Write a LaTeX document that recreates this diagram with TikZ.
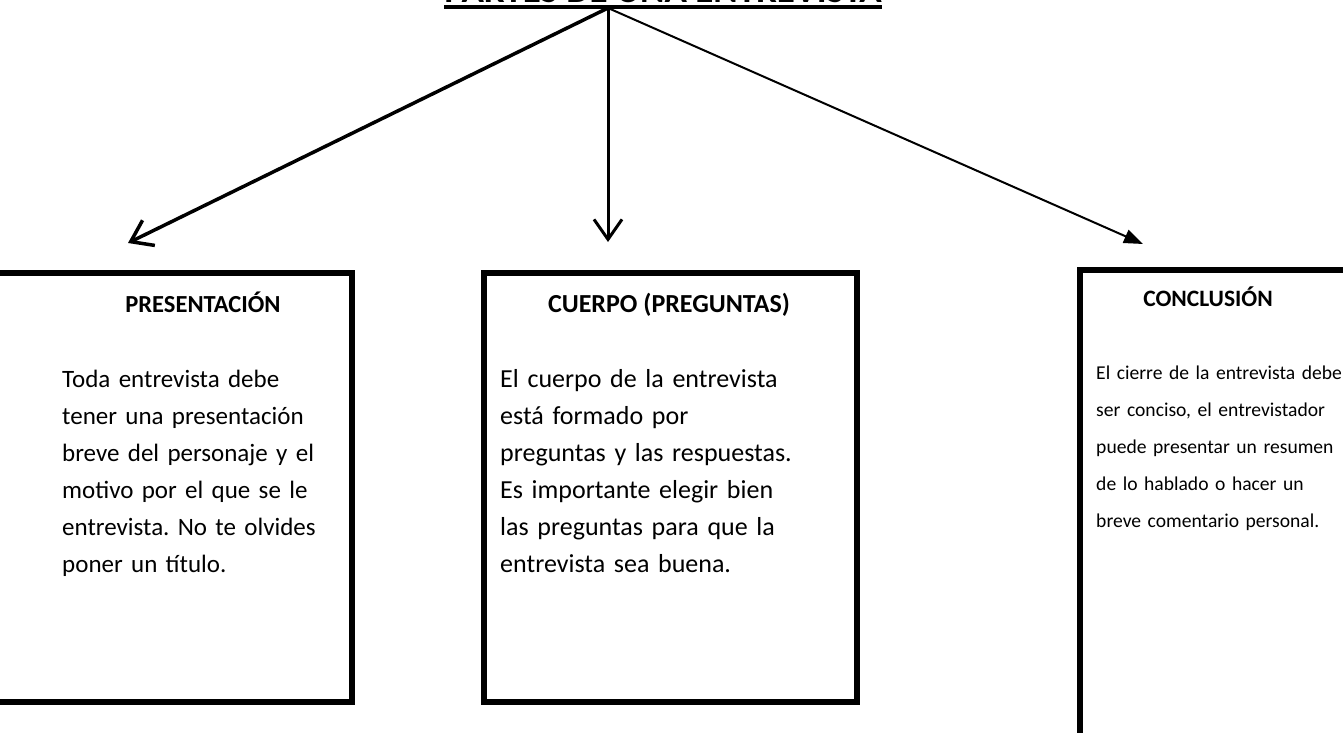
\documentclass[tikz,border=0pt]{standalone}
\usepackage{fontspec}
\setmainfont{Carlito}
\usetikzlibrary{arrows.meta}
\frenchspacing
\tikzset{
  frame/.style={draw=black, line width=5.5pt, inner sep=0pt},
  head/.style={font=\fontsize{26}{37}\selectfont\bfseries, inner sep=0pt, anchor=base},
  body/.style={font=\fontsize{26}{37}\selectfont, inner sep=0pt, anchor=base west, align=left, text width=330pt},
  barb/.style={-{Straight Barb[length=20pt,width=28pt]}}
}
\begin{document}
\begin{tikzpicture}[x=1pt,y=-1pt]
\useasboundingbox (0,0) rectangle (1343,733);
\clip (0,0) rectangle (1343,733);
% title
\node[inner sep=0pt, anchor=base, font=\fontsize{37}{44}\selectfont\bfseries] (title) at (663,3) {PARTES DE UNA ENTREVISTA};
\draw[line width=4pt] ([yshift=-4pt]title.base west) -- ([yshift=-4pt]title.base east);
\coordinate (root) at (608,8);
% boxes
\node[frame, minimum width=362pt, minimum height=429pt] (b1) at (171,487.5) {};
\node[frame, minimum width=373pt, minimum height=429pt] (b2) at (670.5,487.5) {};
\node[frame, minimum width=280pt, minimum height=500pt] (b3) at (1220,520) {};
% arrow targets
\coordinate (t1) at (128,243);
\coordinate (t2) at (608,242);
\coordinate (t3) at (1143,244);
\draw[barb, line width=3.5pt] (root) -- (t1);
\draw[barb, line width=3pt] (root) -- (t2);
\draw[-{Triangle[length=19pt,width=14pt]}, line width=2pt] (root) -- (t3);
% headings
\node[head, font=\fontsize{24.5}{37}\selectfont\bfseries] (h1) at (203,312) {PRESENTACIÓN};
\node[head] (h2) at (669,312) {CUERPO (PREGUNTAS)};
\node[head, font=\fontsize{23.5}{30}\selectfont\bfseries] (h3) at (1208,306) {CONCLUSIÓN};
% bodies
\node[body, font=\fontsize{25}{37}\selectfont] (x1) at (62,387) {Toda entrevista debe\\tener una presentación\\breve del personaje y el\\motivo por el que se le\\entrevista. No te olvides\\poner un título.};
\node[body] (x2) at (500,387) {El cuerpo de la entrevista\\está formado por\\preguntas y las respuestas.\\Es importante elegir bien\\las preguntas para que la\\entrevista sea buena.};
\node[body, font=\fontsize{19.6}{37}\selectfont, text width=300pt] (x3) at (1096,379) {El cierre de la entrevista debe\\ser conciso, el entrevistador\\puede presentar un resumen\\de lo hablado o hacer un\\breve comentario personal.};
\end{tikzpicture}
\end{document}
